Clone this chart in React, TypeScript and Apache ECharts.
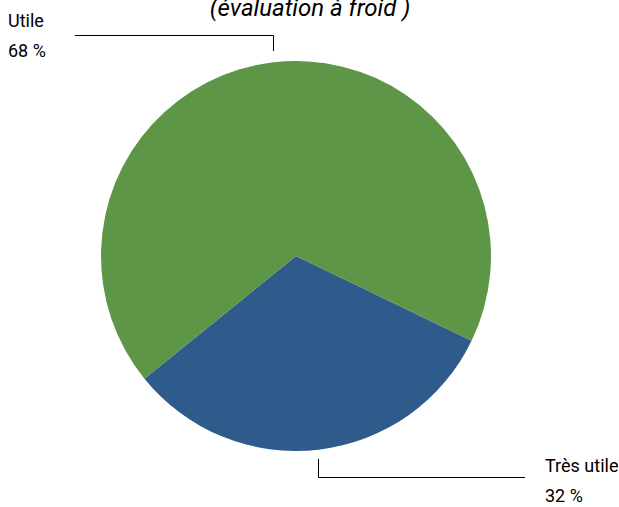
import React, { useEffect, useRef } from "react";
import * as echarts from "echarts";

const categories = ["Très utile", "Utile"];
const values = [32, 68];
const colors = ["#2E5A8C", "#5E9648"];
const titleText = "(évaluation à froid )";

const FONT = "Roboto, 'Liberation Sans', sans-serif";

export default function App() {
  const ref = useRef<HTMLDivElement>(null);
  useEffect(() => {
    if (!ref.current) return;
    const chart = echarts.init(ref.current, undefined, { renderer: "svg" });
    chart.setOption({
      animation: false,
      backgroundColor: "#ffffff",
      title: {
        text: titleText,
        left: 305,
        textAlign: "center",
        top: -9,
        textStyle: { fontFamily: FONT, fontStyle: "italic", fontWeight: "normal", fontSize: 24, color: "#000" },
      },
      series: [
        {
          type: "pie",
          center: [296, 256],
          radius: [0, 195],
          startAngle: -25.8,
          clockwise: true,
          silent: true,
          data: categories.map((c, i) => ({ name: c, value: values[i], itemStyle: { color: colors[i] } })),
          label: {
            show: true,
            formatter: (p: any) => `${p.name}\n${p.value} %`,
            fontFamily: FONT,
            fontSize: 18,
            lineHeight: 30,
            color: "#000",
            overflow: "none",
          },
          labelLine: { show: true, lineStyle: { color: "#000", width: 1 }, smooth: false },
          labelLayout: (params: any) => {
            if (params.dataIndex === 0) {
              return {
                x: 545,
                y: 480,
                align: "left",
                verticalAlign: "middle",
                labelLinePoints: [[318.5, 459], [318.5, 477.5], [525, 477.5]],
              };
            }
            return {
              x: 8,
              y: 35,
              align: "left",
              verticalAlign: "middle",
              labelLinePoints: [[273.5, 51], [273.5, 35.5], [75, 35.5]],
            };
          },
        },
      ],
    });
    return () => chart.dispose();
  }, []);
  return (
    <div
      ref={ref}
      style={{ position: "fixed", left: 0, top: 0, width: 619, height: 507 }}
    />
  );
}
